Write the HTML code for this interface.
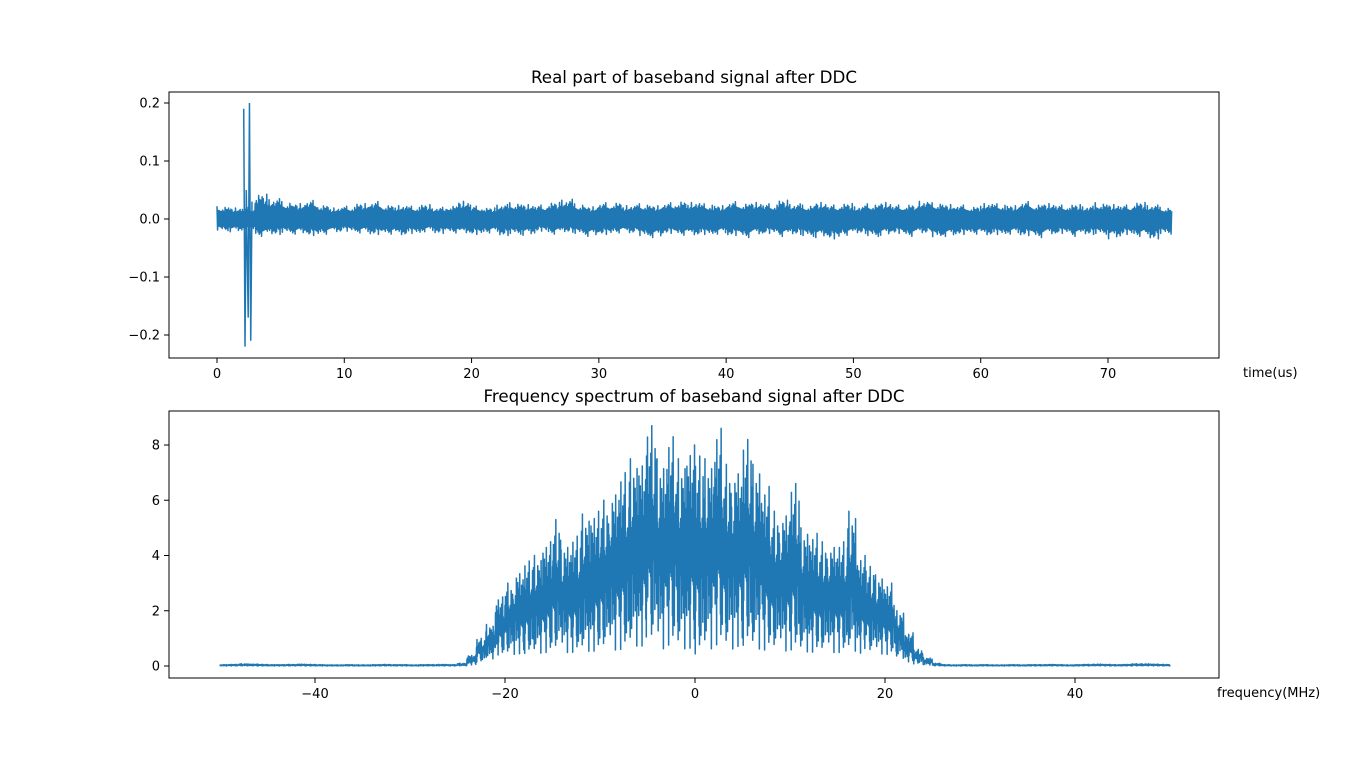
<!DOCTYPE html>
<html><head><meta charset="utf-8">
<style>
body{margin:0;background:#fff;}
svg{display:block;font-family:"DejaVu Sans","Liberation Sans",sans-serif;}
</style></head>
<body>
<svg id="fig" width="1355" height="763" viewBox="0 0 1355 763"></svg>
<script>
// ---- top chart data (time, us) ----
const timeBins = Array.from({length:76},(_,i)=>i);
const timeUpper = [0.022,0.02,0.02,0.045,0.035,0.03,0.028,0.032,0.025,0.02,0.022,0.028,0.03,0.025,0.024,0.022,0.026,0.02,0.024,0.032,0.022,0.02,0.025,0.028,0.026,0.024,0.03,0.034,0.026,0.022,0.028,0.03,0.024,0.026,0.024,0.028,0.032,0.03,0.026,0.024,0.03,0.028,0.03,0.026,0.034,0.026,0.024,0.03,0.024,0.028,0.022,0.026,0.03,0.024,0.026,0.032,0.028,0.026,0.024,0.022,0.028,0.026,0.024,0.03,0.026,0.028,0.024,0.026,0.022,0.028,0.026,0.024,0.03,0.024,0.02,0.018];
const timeLower = [-0.02,-0.022,-0.02,-0.03,-0.028,-0.024,-0.026,-0.03,-0.026,-0.024,-0.022,-0.024,-0.028,-0.026,-0.03,-0.026,-0.022,-0.026,-0.024,-0.026,-0.028,-0.024,-0.03,-0.026,-0.028,-0.022,-0.026,-0.024,-0.026,-0.03,-0.028,-0.024,-0.026,-0.03,-0.032,-0.026,-0.028,-0.03,-0.028,-0.026,-0.03,-0.032,-0.028,-0.026,-0.03,-0.028,-0.03,-0.032,-0.036,-0.028,-0.026,-0.03,-0.028,-0.026,-0.03,-0.026,-0.032,-0.03,-0.028,-0.026,-0.03,-0.028,-0.026,-0.03,-0.032,-0.028,-0.026,-0.03,-0.028,-0.026,-0.034,-0.028,-0.03,-0.036,-0.026,-0.02];
const spikeTimes = [2.1,2.2,2.3,2.45,2.55,2.65,2.75];
const spikeValues = [0.19,-0.22,0.05,-0.17,0.2,-0.21,0.03];
const timeXTicks = [0,10,20,30,40,50,60,70];
const timeYTicks = [-0.2,-0.1,0.0,0.1,0.2];
// ---- bottom chart data (frequency, MHz) ----
const freqBins = Array.from({length:101},(_,i)=>i-50);
const freqUpper = [0.05,0.06,0.08,0.07,0.06,0.05,0.05,0.06,0.07,0.06,0.05,0.04,0.04,0.05,0.04,0.04,0.05,0.06,0.05,0.05,0.04,0.05,0.05,0.06,0.05,0.1,0.4,1.0,1.5,2.5,3.0,3.5,3.8,4.0,4.5,5.3,4.5,4.7,5.5,5.6,6.0,6.5,7.0,7.5,7.6,8.7,7.5,8.3,7.5,8.0,7.6,7.5,8.6,7.3,7.3,8.2,7.3,6.5,5.6,5.7,6.6,5.0,4.8,4.5,4.5,4.5,5.6,4.0,3.6,3.3,3.0,2.0,1.2,0.6,0.3,0.1,0.05,0.04,0.05,0.04,0.05,0.04,0.04,0.05,0.04,0.05,0.05,0.06,0.05,0.04,0.05,0.06,0.07,0.06,0.05,0.06,0.08,0.08,0.07,0.06,0.05];
const freqLower = [0,0,0,0,0,0,0,0,0,0,0,0,0,0,0,0,0,0,0,0,0,0,0,0,0,0,0.02,0.1,0.2,0.3,0.3,0.3,0.3,0.3,0.3,0.3,0.3,0.3,0.3,0.3,0.3,0.3,0.3,0.4,0.4,0.4,0.3,0.4,0.3,0.3,0.1,0.3,0.4,0.3,0.4,0.4,0.3,0.3,0.3,0.3,0.3,0.3,0.3,0.3,0.3,0.3,0.3,0.3,0.3,0.3,0.3,0.2,0.1,0.05,0.02,0,0,0,0,0,0,0,0,0,0,0,0,0,0,0,0,0,0,0,0,0,0,0,0,0,0];
const freqXTicks = [-40,-20,0,20,40];
const freqYTicks = [0,2,4,6,8];
const swingHi = [1,0.7,0.85,0.6,0.75,0.65,0.9,0.55,0.7,0.8,0.6,0.72,0.95,0.62,0.68,0.58,0.78,0.66,0.88,0.6,0.74,0.64,0.82];
const swingLo = [0.3,0.45,0.2,0.5,0.35,0.05,0.4,0.3,0.5,0.25,0.45,0.38,0.15,0.48,0.33,0.42,0.1,0.46,0.36,0.28,0.5,0.4,0.22];

const NS="http://www.w3.org/2000/svg";
const svg=document.getElementById('fig');
function mk(tag,attrs,parent){const e=document.createElementNS(NS,tag);for(const k in attrs)e.setAttribute(k,attrs[k]);(parent||svg).appendChild(e);return e;}

function axes(o){
  const g=mk('g',{});
  
  
  const sx=v=>o.x0px+(v-o.x0)*(o.x1px-o.x0px)/(o.x1-o.x0);
  const sy=v=>o.y0px+(v-o.y0)*(o.y1px-o.y0px)/(o.y1-o.y0);
  o.xt.forEach(t=>{const x=sx(t);
    mk('line',{x1:x,x2:x,y1:o.b,y2:o.b+5,stroke:'#000','stroke-width':1},g);
    const tx=mk('text',{x:x,y:o.b+20,'text-anchor':'middle','font-size':13},g);
    tx.textContent=o.fmtx(t);
    
    });
  o.yt.forEach(t=>{const y=sy(t);
    mk('line',{x1:o.l-5,x2:o.l,y1:y,y2:y,stroke:'#000','stroke-width':1},g);
    const tx=mk('text',{x:o.l-9,y:y+4.5,'text-anchor':'end','font-size':13},g);
    tx.textContent=o.fmty(t);
    
    });
  let d='';let n=0;const steps=o.steps;
  o.bins.forEach((b,i)=>{
    for(let k=0;k<steps;k++){
      const xv=b+k/steps*o.binW;
      if(xv>o.xmax)break;
      const idx=(k*7+i*11)%23;
      const v=o.symm
        ? ((k%2===0)? o.up[i]*swingHi[idx] : o.lo[i]*swingHi[(idx+5)%23])
        : ((k%2===0)? o.lo[i]+(o.up[i]-o.lo[i])*swingHi[idx] : o.lo[i]+(o.up[i]-o.lo[i])*swingLo[idx]*(o.up[i]>1?0.9:1));
      d+=(n++?'L':'M')+sx(xv).toFixed(2)+' '+sy(v).toFixed(2);
    }
  });
  const p=mk('path',{d:d,fill:'none',stroke:'#1f77b4','stroke-width':1.5,'stroke-linejoin':'round'},g);
  
  
  if(o.spx){let sd='';o.spx.forEach((t,i)=>{sd+=(i?'L':'M')+sx(t).toFixed(2)+' '+sy(o.spy[i]).toFixed(2);});
    const sp=mk('path',{d:sd,fill:'none',stroke:'#1f77b4','stroke-width':1.5},g);
    
    }
  const fr=mk('rect',{x:o.l,y:o.t,width:o.r-o.l,height:o.b-o.t,fill:'none',stroke:'#000','stroke-width':1},g);
  
  
  const ti=mk('text',{x:(o.l+o.r)/2,y:o.t-9,'text-anchor':'middle','font-size':16.7},g);
  ti.textContent=o.title;
  
  
  const xl=mk('text',{x:o.xlx,y:o.xly,'font-size':13},g);
  xl.textContent=o.xlabel;
  
  
}
axes({name:'time-chart',l:169,r:1219,t:92,b:358,x0:0,x1:70,x0px:217,x1px:1108,y0:0.2,y1:-0.2,y0px:103,y1px:335,
  xt:timeXTicks,yt:timeYTicks,fmtx:t=>String(t),fmty:t=>(t<0?'\u2212':'')+Math.abs(t).toFixed(1),
  bins:timeBins,up:timeUpper,lo:timeLower,symm:true,binW:1,xmax:75,steps:22,spx:spikeTimes,spy:spikeValues,
  title:'Real part of baseband signal after DDC',xlabel:'time(us)',xlx:1243,xly:377});
axes({name:'spectrum-chart',l:169,r:1219,t:411,b:678,x0:-40,x1:40,x0px:315,x1px:1075,y0:0,y1:8,y0px:666,y1px:445,
  xt:freqXTicks,yt:freqYTicks,fmtx:t=>(t<0?'\u2212':'')+Math.abs(t),fmty:t=>String(t),
  bins:freqBins,up:freqUpper,lo:freqLower,symm:false,binW:1,xmax:50,steps:40,
  title:'Frequency spectrum of baseband signal after DDC',xlabel:'frequency(MHz)',xlx:1217,xly:697});
</script>
</body></html>
